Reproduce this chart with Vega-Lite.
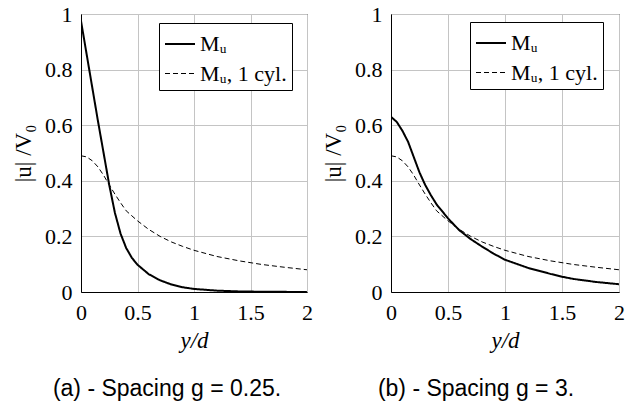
{
  "$schema": "https://vega.github.io/schema/vega-lite/v6.json",
  "padding": {"left": 12, "top": 2, "right": 2, "bottom": 2},
  "background": "white",
  "config": {
    "view": {"stroke": "black", "strokeWidth": 1},
    "axis": {
      "domainColor": "black", "labelColor": "black", "labelFont": "Liberation Serif", "labelFontSize": 22,
      "titleFont": "Liberation Serif", "titleFontSize": 23, "titleColor": "black", "titleFontWeight": "normal",
      "gridColor": "#c4c4c4", "gridWidth": 1, "ticks": false, "labelFlush": false, "labelOverlap": false, "format": "~g"
    },
    "legend": {
      "orient": "none", "strokeColor": "black", "fillColor": "white", "padding": 5,
      "labelFont": "Liberation Serif", "labelFontSize": 22, "labelColor": "black",
      "symbolType": "stroke", "symbolStrokeColor": "black", "symbolSize": 900, "rowPadding": 3, "title": null
    },
    "title": {"font": "Liberation Sans", "fontSize": 23, "fontWeight": "normal", "color": "black"}
  },
  "datasets": {
    "curves": [
      {"panel": "a", "series": "Mᵤ", "yd": 0, "u": 0.975},
      {"panel": "a", "series": "Mᵤ", "yd": 0.05, "u": 0.855},
      {"panel": "a", "series": "Mᵤ", "yd": 0.1, "u": 0.735},
      {"panel": "a", "series": "Mᵤ", "yd": 0.15, "u": 0.615},
      {"panel": "a", "series": "Mᵤ", "yd": 0.2, "u": 0.5},
      {"panel": "a", "series": "Mᵤ", "yd": 0.25, "u": 0.385},
      {"panel": "a", "series": "Mᵤ", "yd": 0.3, "u": 0.285},
      {"panel": "a", "series": "Mᵤ", "yd": 0.35, "u": 0.21},
      {"panel": "a", "series": "Mᵤ", "yd": 0.4, "u": 0.158},
      {"panel": "a", "series": "Mᵤ", "yd": 0.45, "u": 0.123},
      {"panel": "a", "series": "Mᵤ", "yd": 0.5, "u": 0.098},
      {"panel": "a", "series": "Mᵤ", "yd": 0.6, "u": 0.064},
      {"panel": "a", "series": "Mᵤ", "yd": 0.7, "u": 0.042},
      {"panel": "a", "series": "Mᵤ", "yd": 0.8, "u": 0.027},
      {"panel": "a", "series": "Mᵤ", "yd": 0.9, "u": 0.017},
      {"panel": "a", "series": "Mᵤ", "yd": 1.0, "u": 0.011},
      {"panel": "a", "series": "Mᵤ", "yd": 1.2, "u": 0.005},
      {"panel": "a", "series": "Mᵤ", "yd": 1.4, "u": 0.002},
      {"panel": "a", "series": "Mᵤ", "yd": 1.6, "u": 0.001},
      {"panel": "a", "series": "Mᵤ", "yd": 1.8, "u": 0.0005},
      {"panel": "a", "series": "Mᵤ", "yd": 2.0, "u": 0.0},
      {"panel": "a", "series": "Mᵤ, 1 cyl.", "yd": 0, "u": 0.49},
      {"panel": "a", "series": "Mᵤ, 1 cyl.", "yd": 0.05, "u": 0.486},
      {"panel": "a", "series": "Mᵤ, 1 cyl.", "yd": 0.1, "u": 0.472},
      {"panel": "a", "series": "Mᵤ, 1 cyl.", "yd": 0.15, "u": 0.45},
      {"panel": "a", "series": "Mᵤ, 1 cyl.", "yd": 0.2, "u": 0.42},
      {"panel": "a", "series": "Mᵤ, 1 cyl.", "yd": 0.25, "u": 0.385},
      {"panel": "a", "series": "Mᵤ, 1 cyl.", "yd": 0.3, "u": 0.352},
      {"panel": "a", "series": "Mᵤ, 1 cyl.", "yd": 0.35, "u": 0.321},
      {"panel": "a", "series": "Mᵤ, 1 cyl.", "yd": 0.4, "u": 0.292},
      {"panel": "a", "series": "Mᵤ, 1 cyl.", "yd": 0.5, "u": 0.256},
      {"panel": "a", "series": "Mᵤ, 1 cyl.", "yd": 0.6, "u": 0.225},
      {"panel": "a", "series": "Mᵤ, 1 cyl.", "yd": 0.7, "u": 0.2},
      {"panel": "a", "series": "Mᵤ, 1 cyl.", "yd": 0.8, "u": 0.18},
      {"panel": "a", "series": "Mᵤ, 1 cyl.", "yd": 0.9, "u": 0.164},
      {"panel": "a", "series": "Mᵤ, 1 cyl.", "yd": 1.0, "u": 0.15},
      {"panel": "a", "series": "Mᵤ, 1 cyl.", "yd": 1.2, "u": 0.128},
      {"panel": "a", "series": "Mᵤ, 1 cyl.", "yd": 1.4, "u": 0.112},
      {"panel": "a", "series": "Mᵤ, 1 cyl.", "yd": 1.6, "u": 0.099},
      {"panel": "a", "series": "Mᵤ, 1 cyl.", "yd": 1.8, "u": 0.089},
      {"panel": "a", "series": "Mᵤ, 1 cyl.", "yd": 2.0, "u": 0.08},
      {"panel": "b", "series": "Mᵤ", "yd": 0, "u": 0.63},
      {"panel": "b", "series": "Mᵤ", "yd": 0.05, "u": 0.612},
      {"panel": "b", "series": "Mᵤ", "yd": 0.1, "u": 0.58},
      {"panel": "b", "series": "Mᵤ", "yd": 0.15, "u": 0.54},
      {"panel": "b", "series": "Mᵤ", "yd": 0.2, "u": 0.485},
      {"panel": "b", "series": "Mᵤ", "yd": 0.25, "u": 0.43},
      {"panel": "b", "series": "Mᵤ", "yd": 0.3, "u": 0.385},
      {"panel": "b", "series": "Mᵤ", "yd": 0.35, "u": 0.348},
      {"panel": "b", "series": "Mᵤ", "yd": 0.4, "u": 0.315},
      {"panel": "b", "series": "Mᵤ", "yd": 0.45, "u": 0.29},
      {"panel": "b", "series": "Mᵤ", "yd": 0.5, "u": 0.265},
      {"panel": "b", "series": "Mᵤ", "yd": 0.55, "u": 0.243},
      {"panel": "b", "series": "Mᵤ", "yd": 0.6, "u": 0.222},
      {"panel": "b", "series": "Mᵤ", "yd": 0.7, "u": 0.19},
      {"panel": "b", "series": "Mᵤ", "yd": 0.8, "u": 0.163},
      {"panel": "b", "series": "Mᵤ", "yd": 0.9, "u": 0.138},
      {"panel": "b", "series": "Mᵤ", "yd": 1.0, "u": 0.116},
      {"panel": "b", "series": "Mᵤ", "yd": 1.2, "u": 0.087},
      {"panel": "b", "series": "Mᵤ", "yd": 1.4, "u": 0.065},
      {"panel": "b", "series": "Mᵤ", "yd": 1.5, "u": 0.055},
      {"panel": "b", "series": "Mᵤ", "yd": 1.6, "u": 0.047},
      {"panel": "b", "series": "Mᵤ", "yd": 1.8, "u": 0.036},
      {"panel": "b", "series": "Mᵤ", "yd": 2.0, "u": 0.028},
      {"panel": "b", "series": "Mᵤ, 1 cyl.", "yd": 0, "u": 0.49},
      {"panel": "b", "series": "Mᵤ, 1 cyl.", "yd": 0.05, "u": 0.486},
      {"panel": "b", "series": "Mᵤ, 1 cyl.", "yd": 0.1, "u": 0.472},
      {"panel": "b", "series": "Mᵤ, 1 cyl.", "yd": 0.15, "u": 0.45},
      {"panel": "b", "series": "Mᵤ, 1 cyl.", "yd": 0.2, "u": 0.42},
      {"panel": "b", "series": "Mᵤ, 1 cyl.", "yd": 0.25, "u": 0.385},
      {"panel": "b", "series": "Mᵤ, 1 cyl.", "yd": 0.3, "u": 0.352},
      {"panel": "b", "series": "Mᵤ, 1 cyl.", "yd": 0.35, "u": 0.321},
      {"panel": "b", "series": "Mᵤ, 1 cyl.", "yd": 0.4, "u": 0.292},
      {"panel": "b", "series": "Mᵤ, 1 cyl.", "yd": 0.5, "u": 0.256},
      {"panel": "b", "series": "Mᵤ, 1 cyl.", "yd": 0.6, "u": 0.225},
      {"panel": "b", "series": "Mᵤ, 1 cyl.", "yd": 0.7, "u": 0.2},
      {"panel": "b", "series": "Mᵤ, 1 cyl.", "yd": 0.8, "u": 0.18},
      {"panel": "b", "series": "Mᵤ, 1 cyl.", "yd": 0.9, "u": 0.164},
      {"panel": "b", "series": "Mᵤ, 1 cyl.", "yd": 1.0, "u": 0.15},
      {"panel": "b", "series": "Mᵤ, 1 cyl.", "yd": 1.2, "u": 0.128},
      {"panel": "b", "series": "Mᵤ, 1 cyl.", "yd": 1.4, "u": 0.112},
      {"panel": "b", "series": "Mᵤ, 1 cyl.", "yd": 1.6, "u": 0.099},
      {"panel": "b", "series": "Mᵤ, 1 cyl.", "yd": 1.8, "u": 0.089},
      {"panel": "b", "series": "Mᵤ, 1 cyl.", "yd": 2.0, "u": 0.08}
    ]
  },
  "spacing": 9,
  "resolve": {
    "scale": {"strokeDash": "independent", "strokeWidth": "independent"},
    "legend": {"strokeDash": "independent", "strokeWidth": "independent"}
  },
  "hconcat": [
    {
      "width": 226, "height": 278,
      "data": {"name": "curves"},
      "transform": [{"filter": "datum.panel === 'a'"}],
      "title": {"text": "(a) - Spacing g = 0.25.", "orient": "bottom", "anchor": "middle", "dx": -27, "offset": 26},
      "mark": {"type": "line", "color": "black", "clip": true},
      "encoding": {
        "x": {"field": "yd", "type": "quantitative", "scale": {"domain": [0, 2], "nice": false},
              "axis": {"values": [0, 0.5, 1, 1.5, 2], "title": "y/d", "titleFontStyle": "italic", "labelPadding": 10, "titlePadding": 6}},
        "y": {"field": "u", "type": "quantitative", "scale": {"domain": [0, 1], "nice": false},
              "axis": {"values": [0, 0.2, 0.4, 0.6, 0.8, 1], "title": "|u| /V₀", "labelPadding": 9, "titlePadding": 9}},
        "detail": {"field": "series"},
        "strokeDash": {"field": "series", "type": "nominal", "scale": {"domain": ["Mᵤ", "Mᵤ, 1 cyl."], "range": [[1, 0], [5, 3]]},
                       "legend": {"legendX": 78, "legendY": 9}},
        "strokeWidth": {"field": "series", "type": "nominal", "scale": {"domain": ["Mᵤ", "Mᵤ, 1 cyl."], "range": [2, 1]},
                        "legend": {"legendX": 78, "legendY": 9}}
      }
    },
    {
      "width": 228, "height": 278,
      "data": {"name": "curves"},
      "transform": [{"filter": "datum.panel === 'b'"}],
      "title": {"text": "(b) - Spacing g = 3.", "orient": "bottom", "anchor": "middle", "dx": -29, "offset": 26},
      "mark": {"type": "line", "color": "black", "clip": true},
      "encoding": {
        "x": {"field": "yd", "type": "quantitative", "scale": {"domain": [0, 2], "nice": false},
              "axis": {"values": [0, 0.5, 1, 1.5, 2], "title": "y/d", "titleFontStyle": "italic", "labelPadding": 10, "titlePadding": 6}},
        "y": {"field": "u", "type": "quantitative", "scale": {"domain": [0, 1], "nice": false},
              "axis": {"values": [0, 0.2, 0.4, 0.6, 0.8, 1], "title": "|u| /V₀", "labelPadding": 9, "titlePadding": 9}},
        "detail": {"field": "series"},
        "strokeDash": {"field": "series", "type": "nominal", "scale": {"domain": ["Mᵤ", "Mᵤ, 1 cyl."], "range": [[1, 0], [5, 3]]},
                       "legend": {"legendX": 79, "legendY": 8}},
        "strokeWidth": {"field": "series", "type": "nominal", "scale": {"domain": ["Mᵤ", "Mᵤ, 1 cyl."], "range": [2, 1]},
                        "legend": {"legendX": 79, "legendY": 8}}
      }
    }
  ]
}
